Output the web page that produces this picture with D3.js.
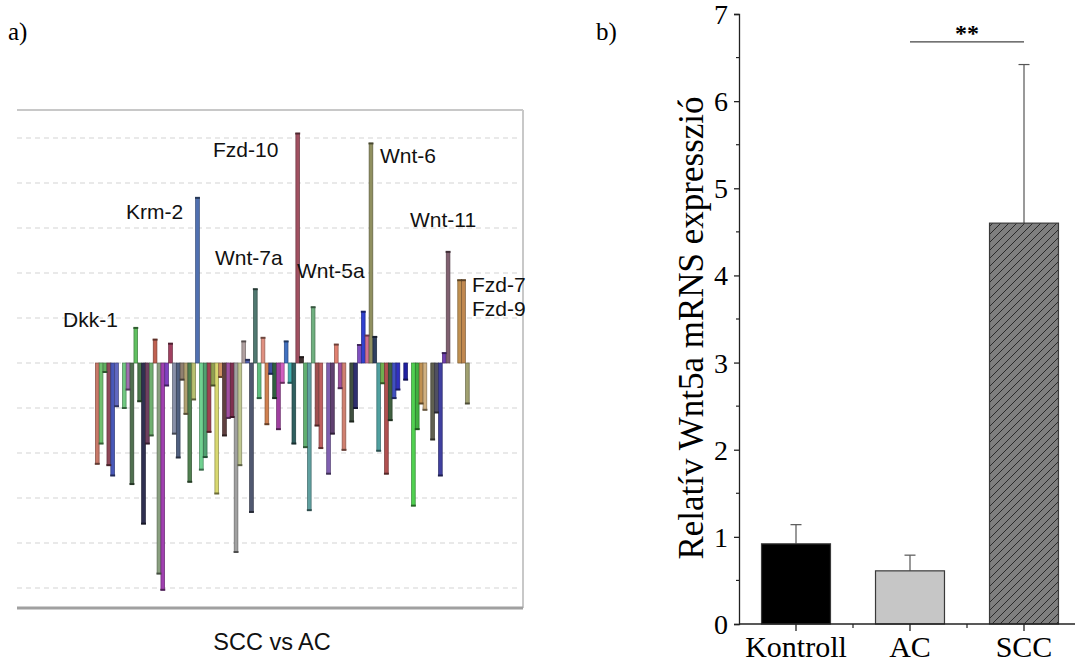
<!DOCTYPE html>
<html><head><meta charset="utf-8">
<script src="https://cdn.jsdelivr.net/npm/d3@7"></script>
<style>body{margin:0;background:#fff} svg{display:block}</style>
</head><body>
<svg id="chart" width="1075" height="665"></svg>
<script>
// ---------- Panel a data: SCC vs AC fold changes (null = no bar) ----------
const geneValues = [
  -2.24, -1.79, -0.2, -2.27, -2.5, -0.96, null, -1.0, -0.59, -2.69,
  0.78, -0.85, -3.57, -1.79, -1.61, 0.52, -4.68, -5.04, -0.5, 0.43,
  -1.57, -2.1, -0.37, -1.13, -2.64, -0.81, 3.67, -2.37, -2.09, -1.53,
  -0.5, -2.9, -0.31, -1.61, -1.22, -1.2, -4.2, -2.27, 0.48, 0.07,
  -3.31, 1.64, -0.78, 0.56, -1.36, -0.24, -0.78, -1.47, -0.44, 0.48,
  -0.44, -1.79, 5.1, 0.13, -1.87, -3.27, 1.24, -1.39, -1.89, null,
  -2.46, -1.57, 0.41, -0.56, -1.93, null, -1.3, -1.0, 0.4, 1.14,
  0.61, 4.88, 0.58, -1.95, -0.45, -2.46, -1.27, -0.78, -0.59, null,
  -0.37, null, -3.17, -1.47, -0.9, -1.04, null, -1.7, -1.1, -2.5,
  0.22, 2.47, null, null, 1.84, 1.84, -0.9
];
const geneColors = [
  "#c87868","#70c070","#60b060","#904858","#4858b8","#6068c0","#999","#70c880","#a070b0","#507050",
  "#60c060","#4a7a4a","#303050","#704060","#70b070","#c06050","#8aa080","#a040b0","#8040c0","#a04060",
  "#8890a8","#506080","#908070","#b0a070","#508050","#b8c070","#5070b0","#70d090","#50a070","#a04050",
  "#90a050","#d8d870","#d09060","#604040","#a050a0","#803050","#a0a0a0","#c0c890","#b0a0a0","#5060b0",
  "#505870","#507870","#60c080","#e09080","#d08050","#4050a0","#306040","#a040a0","#d060c0","#4070c0",
  "#40b0b0","#306060","#a05060","#403030","#60b070","#60a0a0","#70b080","#a05050","#c06060","#999",
  "#8060b0","#604070","#e08070","#a050a0","#d08070","#999","#405040","#303070","#8050c0","#3040d0",
  "#d07090","#909060","#304060","#50a0a0","#70b050","#b05050","#406040","#4050c0","#3030c0","#999",
  "#2020a0","#999","#50d050","#40b040","#c09050","#d0b080","#999","#606050","#505060","#4040a0",
  "#7040b0","#806070","#999","#999","#c09050","#c08850","#a0a070"
];
const geneLabels = ["Dkk-1","Krm-2","Fzd-10","Wnt-7a","Wnt-5a","Wnt-6","Wnt-11","Fzd-7","Fzd-9"];
const gridValues = [-5,-4,-3,-2,-1,0,1,2,3,4,5];
const panelATitle = "SCC vs AC";

// ---------- Panel b data ----------
const groups = ["Kontroll","AC","SCC"];
const means = [0.92, 0.61, 4.6];
const errors = [0.22, 0.18, 1.82];
const yTicksB = [0,1,2,3,4,5,6,7];
const yLabelB = "Relatív Wnt5a mRNS expresszió";
const sigLabel = "**";

const svg = d3.select("#chart");
const sans = "'Liberation Sans', Arial, sans-serif";
const serif = "'Liberation Serif', 'Times New Roman', serif";

// ================= Panel a =================
const aL = 17, aR = 523, aT = 110, aB = 608;
const ya = d3.scaleLinear().domain([-5.444, 5.622]).range([aB, aT]);
const xa = d3.scaleBand().domain(d3.range(geneValues.length)).range([95.4, 469.2]).paddingInner(0.04);

const ga = svg.append("g");
ga.selectAll("line.grid").data(gridValues).enter().append("line")
  .attr("x1", aL).attr("x2", aR - 3)
  .attr("y1", d => ya(d)).attr("y2", d => ya(d))
  .attr("stroke", "#d4d4d4").attr("stroke-width", 1.2).attr("stroke-dasharray", "5,4");
// frame
ga.append("line").attr("x1", aL).attr("x2", aR).attr("y1", aT).attr("y2", aT)
  .attr("stroke", "#c8c8c8").attr("stroke-width", 2);
ga.append("line").attr("x1", aR).attr("x2", aR).attr("y1", aT).attr("y2", aB)
  .attr("stroke", "#c8c8c8").attr("stroke-width", 2);
ga.append("line").attr("x1", aL).attr("x2", aR).attr("y1", aB).attr("y2", aB)
  .attr("stroke", "#a0a0a0").attr("stroke-width", 3);

const bars = geneValues.map((v, i) => ({i, v, c: geneColors[i]})).filter(d => d.v !== null && d.v !== 0);
const bw = xa.bandwidth();
ga.selectAll("rect.gene").data(bars).enter().append("rect")
  .attr("x", d => xa(d.i)).attr("width", bw)
  .attr("y", d => Math.min(ya(0), ya(d.v)))
  .attr("height", d => Math.abs(ya(d.v) - ya(0)))
  .attr("fill", d => d.c)
  .attr("stroke", d => d3.color(d.c).darker(1.2))
  .attr("stroke-width", 0.7);
ga.selectAll("line.cap").data(bars).enter().append("line")
  .attr("x1", d => xa(d.i) - 0.6).attr("x2", d => xa(d.i) + bw + 0.6)
  .attr("y1", d => ya(d.v)).attr("y2", d => ya(d.v))
  .attr("stroke", d => d3.color(d.c).darker(2))
  .attr("stroke-width", 2);

// gene annotation labels (layout positions)
const labelPos = {
  "Dkk-1": [63, 327], "Krm-2": [126, 219], "Fzd-10": [213, 157], "Wnt-7a": [215, 265],
  "Wnt-5a": [297, 278], "Wnt-6": [380, 163], "Wnt-11": [410, 227], "Fzd-7": [472, 292], "Fzd-9": [472, 316]
};
ga.selectAll("text.gl").data(geneLabels).enter().append("text")
  .attr("x", d => labelPos[d][0]).attr("y", d => labelPos[d][1])
  .attr("font-family", sans).attr("font-size", 21).attr("fill", "#111")
  .text(d => d);
ga.append("text").attr("x", (aL + aR) / 2 + 2).attr("y", 650)
  .attr("text-anchor", "middle").attr("font-family", sans).attr("font-size", 23.5).attr("fill", "#111")
  .text(panelATitle);

svg.append("text").attr("x", 8).attr("y", 40).attr("font-family", serif).attr("font-size", 25).text("a)");
svg.append("text").attr("x", 596).attr("y", 40).attr("font-family", serif).attr("font-size", 25).text("b)");

// ================= Panel b =================
const bL = 739, bB = 624, bT = 14;
const yb = d3.scaleLinear().domain([0, 7]).range([bB, bT]);
const xb = d3.scaleBand().domain(groups).range([bL, 1081]).paddingInner(0.395).paddingOuter(0.1975);

const defs = svg.append("defs");
const pat = defs.append("pattern").attr("id", "hatch").attr("patternUnits", "userSpaceOnUse")
  .attr("width", 8).attr("height", 8);
pat.append("rect").attr("width", 8).attr("height", 8).attr("fill", "#7f7f7f");
pat.append("path").attr("d", "M0,8 L8,0 M-2,2 L2,-2 M6,10 L10,6")
  .attr("stroke", "#2a2a2a").attr("stroke-width", 1);

const fills = ["#000000", "#c6c6c6", "url(#hatch)"];
const gb = svg.append("g");
// error bars (upper only)
gb.selectAll("line.err").data(groups).enter().append("line")
  .attr("x1", d => xb(d) + xb.bandwidth() / 2).attr("x2", d => xb(d) + xb.bandwidth() / 2)
  .attr("y1", (d, i) => yb(means[i])).attr("y2", (d, i) => yb(means[i] + errors[i]))
  .attr("stroke", "#555").attr("stroke-width", 1.2);
gb.selectAll("line.errcap").data(groups).enter().append("line")
  .attr("x1", d => xb(d) + xb.bandwidth() / 2 - 5.5).attr("x2", d => xb(d) + xb.bandwidth() / 2 + 5.5)
  .attr("y1", (d, i) => yb(means[i] + errors[i])).attr("y2", (d, i) => yb(means[i] + errors[i]))
  .attr("stroke", "#555").attr("stroke-width", 1.2);
gb.selectAll("rect.bar").data(groups).enter().append("rect")
  .attr("x", d => xb(d)).attr("width", xb.bandwidth())
  .attr("y", (d, i) => yb(means[i])).attr("height", (d, i) => yb(0) - yb(means[i]))
  .attr("fill", (d, i) => fills[i])
  .attr("stroke", "#3a3a3a").attr("stroke-width", 1.2);

// axes
const yAxis = d3.axisLeft(yb).tickValues(yTicksB).tickSize(5).tickFormat(d3.format("d"));
const yg = gb.append("g").attr("transform", `translate(${bL},0)`).call(yAxis);
yg.select(".domain").attr("stroke", "#222").attr("stroke-width", 1.3);
yg.selectAll(".tick line").attr("stroke", "#222").attr("stroke-width", 1.3);
yg.selectAll(".tick text").attr("font-family", serif).attr("font-size", 28).attr("fill", "#000")
  .attr("x", -11).attr("dy", "0.34em");
// minor y ticks
gb.selectAll("line.ymin").data(d3.range(0.5, 7, 1)).enter().append("line")
  .attr("x1", bL - 3).attr("x2", bL).attr("y1", d => yb(d)).attr("y2", d => yb(d))
  .attr("stroke", "#222").attr("stroke-width", 1.2);

// x axis
gb.append("line").attr("x1", bL).attr("x2", 1075).attr("y1", bB).attr("y2", bB)
  .attr("stroke", "#222").attr("stroke-width", 1.3);
gb.selectAll("line.xt").data(groups).enter().append("line")
  .attr("x1", d => xb(d) + xb.bandwidth() / 2).attr("x2", d => xb(d) + xb.bandwidth() / 2)
  .attr("y1", bB).attr("y2", bB + 7).attr("stroke", "#222").attr("stroke-width", 1.3);
gb.selectAll("line.xm").data(groups.slice(1)).enter().append("line")
  .attr("x1", d => xb(d) - xb.step() * xb.paddingInner() / 2).attr("x2", d => xb(d) - xb.step() * xb.paddingInner() / 2)
  .attr("y1", bB).attr("y2", bB + 4).attr("stroke", "#222").attr("stroke-width", 1.2);
gb.selectAll("text.xl").data(groups).enter().append("text")
  .attr("x", d => xb(d) + xb.bandwidth() / 2).attr("y", 657)
  .attr("text-anchor", "middle").attr("font-family", serif).attr("font-size", 30).attr("fill", "#000")
  .text(d => d);

// y label
gb.append("text").attr("transform", `translate(703,${(bB + bT) / 2 + 9}) rotate(-90)`)
  .attr("text-anchor", "middle").attr("font-family", serif).attr("font-size", 35).attr("fill", "#000")
  .text(yLabelB);

// significance
const sx1 = xb("AC") + xb.bandwidth() / 2, sx2 = xb("SCC") + xb.bandwidth() / 2;
gb.append("line").attr("x1", sx1).attr("x2", sx2).attr("y1", yb(6.68)).attr("y2", yb(6.68))
  .attr("stroke", "#444").attr("stroke-width", 1.2);
gb.append("text").attr("x", (sx1 + sx2) / 2).attr("y", 41).attr("text-anchor", "middle")
  .attr("font-family", serif).attr("font-size", 24).attr("font-weight", "bold").text(sigLabel);
</script>
</body></html>
